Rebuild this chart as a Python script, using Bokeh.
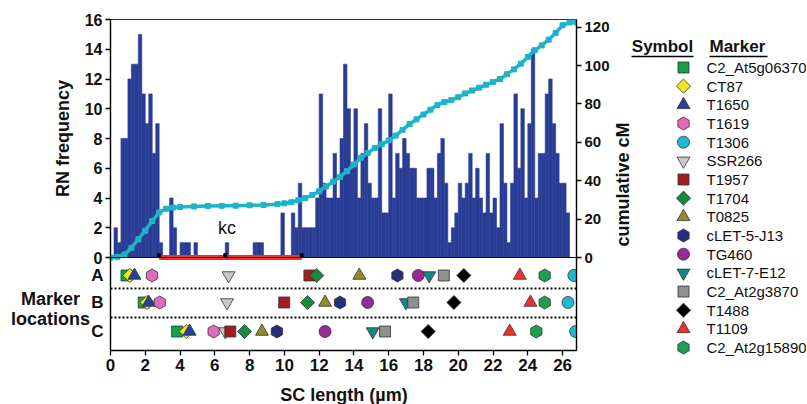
import math
from bokeh.plotting import figure
from bokeh.models import Range1d, LinearAxis, FixedTicker, Label, Span
from bokeh.layouts import row, column
from bokeh.embed import file_html
from bokeh.resources import INLINE
from bokeh.core.properties import value

FONT = "Liberation Sans"

# ---------------- data ----------------
BIN_WIDTH = 0.2   # um
rn_frequency = [0, 2, 1, 8, 8, 12, 13, 13, 15, 11,
                9, 11, 7, 9, 1, 0, 0, 4, 2, 0,
                1, 1, 1, 0, 1, 0, 0, 0, 0, 0,
                0, 0, 0, 1, 0, 0, 0, 0, 0, 0,
                0, 1, 1, 1, 0, 0, 0, 0, 0, 3,
                0, 0, 3, 2, 5, 2, 2, 2, 2, 4,
                11, 5, 4, 4, 7, 4, 8, 13, 10, 6,
                10, 4, 7, 9, 5, 4, 4, 10, 3, 3,
                11, 4, 7, 6, 8, 7, 6, 6, 4, 4,
                4, 6, 6, 4, 7, 8, 5, 1, 2, 3,
                5, 4, 5, 7, 4, 6, 4, 3, 7, 3,
                4, 2, 9, 5, 1, 5, 11, 6, 10, 4,
                9, 14, 4, 7, 7, 11, 12, 9, 7, 5,
                5, 3, 0, 0]

cum_x = [0, 0.4, 0.8, 1.2, 1.6, 2.0, 2.4, 2.8, 3.2, 3.6, 4.0, 4.8, 5.6, 6.4, 7.2, 8.0,
         8.8, 9.6, 10.0, 10.4, 10.8, 11.2, 11.6, 12.0, 12.4, 12.8, 13.2, 13.6, 14.0,
         14.4, 14.8, 15.2, 15.6, 16.0, 16.4, 16.8, 17.2, 17.6, 18.0, 18.4, 18.8, 19.2,
         19.6, 20.0, 20.4, 20.8, 21.2, 21.6, 22.0, 22.4, 22.8, 23.2, 23.6, 24.0, 24.4,
         24.8, 25.2, 25.6, 26.0, 26.4, 26.8]
cum_cm = [0, 0.3, 1.5, 5, 9.5, 14, 19, 23.5, 25.4, 26, 26.3, 26.6, 26.8, 26.9, 27, 27.2,
          27.4, 27.8, 28.2, 28.8, 29.8, 31, 32.5, 34.5, 37, 39.5, 42, 45, 48.5,
          52, 54.5, 57, 59, 61, 63.5, 66.5, 69.5, 72, 74.5, 77, 79.5, 81,
          82, 83.5, 85.5, 87, 88.5, 90, 91.5, 93, 95.5, 98, 101, 104.5, 108,
          110.5, 113.5, 117, 121, 122.5, 122.5]

kc_start, kc_end = 2.8, 11.0
kc_marks = [2.8, 6.6, 11.0]

marker_names = ["C2_At5g06370", "CT87", "T1650", "T1619", "T1306", "SSR266", "T1957",
                "T1704", "T0825", "cLET-5-J13", "TG460", "cLET-7-E12", "C2_At2g3870",
                "T1488", "T1109", "C2_At2g15890"]
marker_symbols = ["square", "diamond", "triangle", "hex", "circle", "inverted_triangle",
                  "square", "diamond", "triangle", "hex", "circle", "inverted_triangle",
                  "square", "diamond", "triangle", "hex"]
marker_colors = ["#16a04a", "#f4e61c", "#2440a0", "#e06bb8", "#1fb8d2", "#c8c8c8",
                 "#a31c22", "#178a3e", "#8f8c2a", "#26307a", "#952c96", "#178585",
                 "#8f8f8f", "#000000", "#ee3030", "#1ca04e"]
pos_A = [0.92, 1.11, 1.38, 2.39, 26.65, 6.79, 11.44, 11.86, 14.31, 16.50, 17.70, 18.33,
         19.17, 20.32, 23.54, 24.97]
pos_B = [1.91, 2.10, 2.20, 2.83, 26.31, 6.70, 9.99, 11.33, 12.34, 13.20, 14.79, 16.99,
         17.41, 19.75, 24.15, 24.97]
pos_C = [3.83, 4.36, 4.55, 5.93, 26.75, 6.60, 6.89, 7.71, 8.71, 9.57, 12.34, 15.08,
         15.79, 18.27, 22.96, 24.49]
row_labels = ["A", "B", "C"]

x_ticks = list(range(0, 27, 2))
rn_ticks = list(range(0, 17, 2))
cm_ticks = list(range(0, 121, 20))

# ---------------- layout / style ----------------
BAR = "#2a3d95"
CYAN = "#1db4c9"
RED = "#ec2f2a"
X_MAX = 26.8
PX_PER_RN = 238 / 16            # histogram panel: 238 px for 0..16
LOWER_PX = 93                   # height of marker-location panel
RN_BOT = -LOWER_PX / PX_PER_RN
CM_TOP = 124
CM_BOT = -LOWER_PX / (238 / CM_TOP)
H = 404
TOP_B, BOT_B = 19, 30
MAIN_H = TOP_B + 331 + BOT_B
LEFT_W, MAIN_W = 104, 6 + 467 + 35
LX0 = LEFT_W + MAIN_W
row_y = [-18 / PX_PER_RN, -45 / PX_PER_RN, -74 / PX_PER_RN]      # rows A, B, C
sep_y = [-31 / PX_PER_RN, -60 / PX_PER_RN]                       # dotted separators


def no_align(fig):
    if "frame_align" in fig.properties():
        fig.frame_align = False


def marker_style(sym):
    if sym == "diamond":
        return dict(marker="square", angle=math.pi / 4, size=10)
    if sym == "hex":
        return dict(marker="hex", angle=math.pi / 6, size=13)
    if sym == "circle":
        return dict(marker="circle", angle=0, size=12)
    if sym == "square":
        return dict(marker="square", angle=0, size=11)
    return dict(marker=sym, angle=0, size=13)


def style_axis(ax, size="16px"):
    ax.axis_line_color = "black"
    ax.axis_line_width = 1.3
    ax.major_tick_line_color = "black"
    ax.major_tick_line_width = 1.3
    ax.major_tick_out = 5
    ax.major_tick_in = 0
    ax.minor_tick_line_color = None
    ax.major_label_text_font = FONT
    ax.major_label_text_font_style = "bold"
    ax.major_label_text_font_size = size
    ax.major_label_text_color = "#111111"
    ax.major_label_standoff = 3


def blank_fig(w, h, xr, yr):
    f = figure(width=w, height=h, title=None, x_range=xr, y_range=yr,
               x_axis_location=None, y_axis_location=None, output_backend="svg",
               toolbar_location=None, min_border=0)
    f.grid.visible = False
    f.outline_line_color = None
    no_align(f)
    return f


# ---------------- main plot ----------------
p = figure(width=MAIN_W, height=MAIN_H, title=None,
           x_range=Range1d(0, X_MAX), y_range=Range1d(RN_BOT, 16),
           y_axis_location=None, output_backend="svg", toolbar_location=None,
           min_border_left=6, min_border_right=35, min_border_top=TOP_B, min_border_bottom=BOT_B)
no_align(p)
p.extra_y_ranges = {"cm": Range1d(CM_BOT, CM_TOP)}
p.grid.visible = False
p.outline_line_color = "#333333"
p.outline_line_width = 1.2

left_ax = LinearAxis(ticker=FixedTicker(ticks=rn_ticks),
                     major_label_overrides={t: "" for t in rn_ticks})
right_ax = LinearAxis(y_range_name="cm", ticker=FixedTicker(ticks=cm_ticks))
p.add_layout(left_ax, "left")
p.add_layout(right_ax, "right")
p.xaxis.ticker = FixedTicker(ticks=x_ticks)
style_axis(left_ax)
style_axis(right_ax, "15px")
style_axis(p.xaxis[0], "17px")
left_ax.major_label_standoff = 0

# histogram
centers = [BIN_WIDTH * (i + 0.5) for i in range(len(rn_frequency))]
p.vbar(x=centers, top=rn_frequency, bottom=0, width=BIN_WIDTH,
       fill_color=BAR, line_color=BAR, line_width=0.6)
p.add_layout(Span(location=0, dimension="width", line_color="#111111", line_width=1.2))
# kinetochore region
p.segment(x0=[kc_start], x1=[kc_end], y0=[0], y1=[0], line_color=RED, line_width=5)
p.scatter(x=kc_marks, y=[0.15] * len(kc_marks), marker="square",
          size=3, fill_color="black", line_color="black")
p.add_layout(Label(x=6.7, y=1.95, text="kc", text_align="center",
                   text_baseline="middle", text_font=FONT, text_font_size="18px",
                   text_color="#111111"))
# cumulative cM
p.line(cum_x, cum_cm, y_range_name="cm", line_color=CYAN, line_width=3.5)
p.scatter(cum_x, cum_cm, y_range_name="cm", marker="square", size=5,
          fill_color=CYAN, line_color=CYAN)

# marker location rows
for yv in sep_y:
    p.add_layout(Span(location=yv, dimension="width", line_color="black",
                      line_width=2, line_dash="2 2"))
for k, name in enumerate(marker_names):
    st = marker_style(marker_symbols[k])
    p.scatter(x=[pos_A[k], pos_B[k], pos_C[k]], y=row_y, marker=st["marker"],
              angle=st["angle"], size=st["size"], fill_color=marker_colors[k],
              line_color="#333333", line_width=0.8)

common = dict(text_font=FONT, text_font_style="bold", text_font_size="18px",
              text_align="center", text_baseline="middle", text_color="#111111")

# x-axis title strip below the main plot (page pixel coordinates)
strip = blank_fig(MAIN_W, H - MAIN_H, Range1d(LEFT_W, LX0), Range1d(H, MAIN_H))
strip.add_layout(Label(x=110 + 467 / 2, y=394, text="SC length (µm)", **common))

# ---------------- left text panel (page pixel coordinates) ----------------
lf = blank_fig(LEFT_W, H, Range1d(0, LEFT_W), Range1d(H, 0))
lf.text(x=[102] * len(rn_ticks), y=[257 - t * PX_PER_RN for t in rn_ticks],
        text=[str(t) for t in rn_ticks],
        text_align="right", text_baseline="middle", text_font=value(FONT),
        text_font_style="bold", text_font_size="16px", text_color="#111111")
lf.text(x=[103] * 3, y=[257 - v * PX_PER_RN for v in row_y], text=row_labels,
        text_align="right", text_baseline="middle",
        text_font=value(FONT), text_font_style="bold", text_font_size="17px",
        text_color="#111111")
lf.add_layout(Label(x=62, y=138, text="RN frequency", angle=math.pi / 2, **common))
lf.add_layout(Label(x=50, y=298, text="Marker", **common))
lf.add_layout(Label(x=50, y=318, text="locations", **common))

# ---------------- legend panel (page pixel coordinates) ----------------
leg = blank_fig(806 - LX0, H, Range1d(LX0, 806), Range1d(H, 0))
leg.add_layout(Label(x=622, y=184, text="cumulative cM", angle=math.pi / 2, **common))
head = dict(text_font=FONT, text_font_style="bold", text_font_size="17px",
            text_baseline="middle", text_color="#111111")
leg.add_layout(Label(x=662, y=46, text="Symbol", text_align="center", **head))
leg.add_layout(Label(x=709, y=46, text="Marker", text_align="left", **head))
leg.segment(x0=[631, 709], x1=[693, 767], y0=[56, 56], y1=[56, 56],
            line_color="black", line_width=1.5)
for k, name in enumerate(marker_names):
    yk = 67 + 18.67 * k
    st = marker_style(marker_symbols[k])
    leg.scatter(x=[683], y=[yk], marker=st["marker"], angle=st["angle"], size=st["size"],
                fill_color=marker_colors[k], line_color="#333333", line_width=0.8)
    leg.add_layout(Label(x=706, y=yk, text=name, text_align="left", text_baseline="middle",
                         text_font=FONT, text_font_size="15px", text_color="#111111"))

layout = row(lf, column(p, strip), leg)
open("out.html", "w").write(file_html(layout, INLINE))
